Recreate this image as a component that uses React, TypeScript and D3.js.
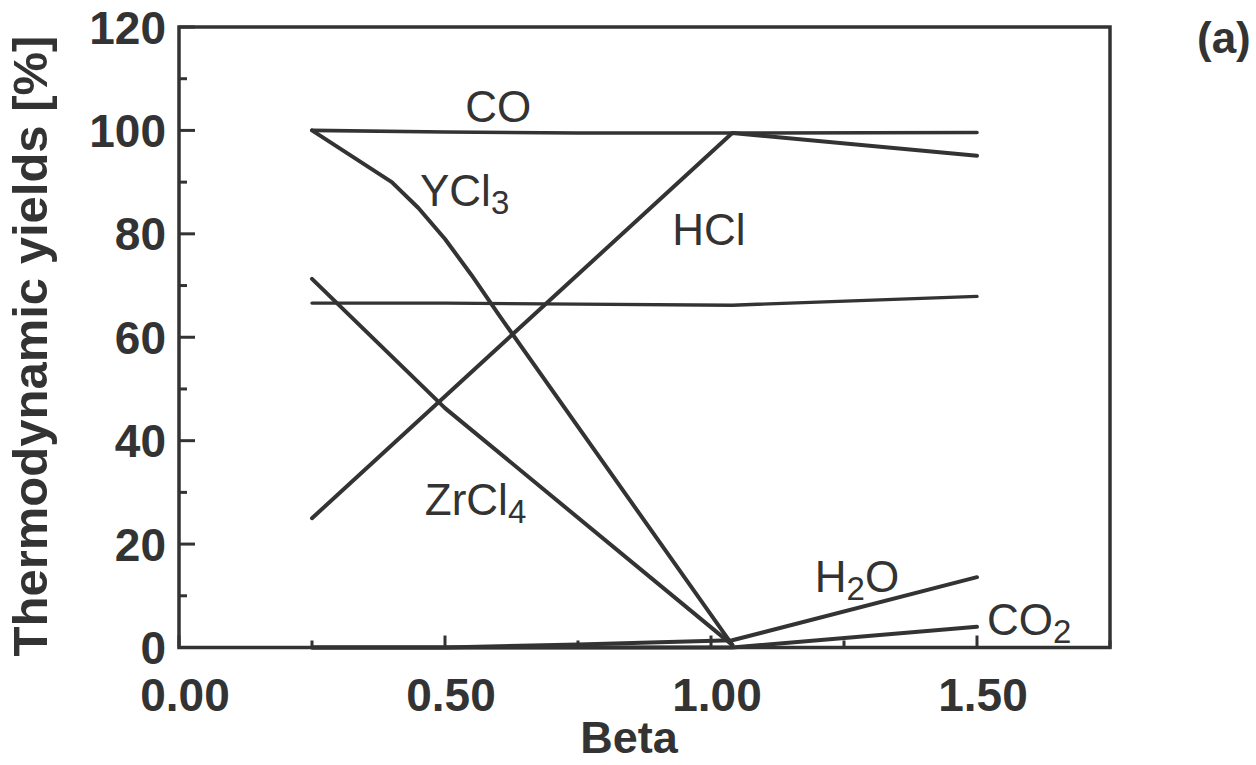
import React from 'react';
import * as d3 from 'd3';

// yields (beta vs thermodynamic yield, %)
const coBeta = [0.25, 0.5, 0.75, 1.04, 1.5];
const coYield = [100, 99.7, 99.5, 99.5, 99.6];

const ycl3Beta = [0.25, 0.4, 0.45, 0.5, 0.55, 0.6, 1.04];
const ycl3Yield = [100, 90, 85, 79, 72, 64.5, 0.5];

const hclBeta = [0.25, 1.04, 1.5];
const hclYield = [25, 99.5, 95.1];

const zrcl4Beta = [0.25, 0.5, 1.04];
const zrcl4Yield = [71.3, 46.3, 0.5];

const flatBeta = [0.25, 0.5, 0.75, 1.04, 1.5];
const flatYield = [66.6, 66.6, 66.4, 66.2, 67.9];

const h2oBeta = [0.25, 0.5, 0.75, 1.04, 1.5];
const h2oYield = [0, 0, 0.6, 1.4, 13.6];

const co2Beta = [0.25, 1.04, 1.5];
const co2Yield = [0, 0, 4.0];

const xTickLabels = ['0.00', '0.50', '1.00', '1.50'];
const yTickLabels = ['0', '20', '40', '60', '80', '100', '120'];

// label anchors in data units: [beta, yield]
const labels = [
    { main: 'CO', sub: '', at: [0.538, 101.6] },
    { main: 'YCl', sub: '3', at: [0.453, 85.4] },
    { main: 'HCl', sub: '', at: [0.927, 77.9] },
    { main: 'ZrCl', sub: '4', at: [0.462, 25.6] },
    { main: 'H', sub: '2', tail: 'O', at: [1.195, 10.7] },
    { main: 'CO', sub: '2', at: [1.519, 2.4] },
];

const W = 1256;
const H = 765;
const ink = '#333';

export default function App() {
    const x = d3.scaleLinear().domain([0, 1.75]).range([179, 1110]);
    const y = d3.scaleLinear().domain([0, 120]).range([647.5, 27]);

    const line = d3.line<[number, number]>()
        .x(d => x(d[0]))
        .y(d => y(d[1]));

    const zip = (bs: number[], vs: number[]) => bs.map((b, i) => [b, vs[i]] as [number, number]);

    const series = [
        { pts: zip(coBeta, coYield), w: 3.6 },
        { pts: zip(ycl3Beta, ycl3Yield), w: 4 },
        { pts: zip(hclBeta, hclYield), w: 4 },
        { pts: zip(zrcl4Beta, zrcl4Yield), w: 4 },
        { pts: zip(flatBeta, flatYield), w: 3.4 },
        { pts: zip(h2oBeta, h2oYield), w: 4 },
        { pts: zip(co2Beta, co2Yield), w: 4 },
    ];

    const xTicks = d3.range(0, 1.76, 0.25);
    const yTicks = d3.range(0, 121, 10);

    return (
        <div style={{ position: 'absolute', left: 0, top: 0 }}>
            <svg width={W} height={H} style={{ display: 'block', background: '#fff' }}
                fontFamily="'Liberation Sans', Arial, Helvetica, sans-serif">
                {/* frame */}
                <rect x={x(0)} y={y(120)} width={x(1.75) - x(0)} height={y(0) - y(120)}
                    fill="none" stroke={ink} strokeWidth={3.5} />

                {/* y ticks, pointing inward */}
                {yTicks.map((t, i) => (
                    <line key={'yt' + i} x1={x(0)} x2={x(0) + (t % 20 === 0 ? 16 : 8)}
                        y1={y(t)} y2={y(t)} stroke={ink} strokeWidth={3} />
                ))}
                {/* x ticks */}
                {xTicks.map((t, i) => (
                    <line key={'xt' + i} x1={x(t)} x2={x(t)} y1={y(0)}
                        y2={y(0) - (i % 2 === 0 ? 12 : 7)} stroke={ink} strokeWidth={3} />
                ))}

                {/* tick labels */}
                {yTickLabels.map((lab, i) => (
                    <text key={'yl' + i} x={166} y={y(+lab)} dy="0.36em" textAnchor="end"
                        fontSize={46} fontWeight="bold" fill={ink}>{lab}</text>
                ))}
                {xTickLabels.map((lab, i) => (
                    <text key={'xl' + i} x={x(+lab) + 6} y={711} textAnchor="middle"
                        fontSize={46} fontWeight="bold" fill={ink}>{lab}</text>
                ))}

                {/* axis titles */}
                <text x={629} y={753} textAnchor="middle" fontSize={45} fontWeight="bold" fill={ink}>Beta</text>
                <text transform="translate(47,346) rotate(-90)" textAnchor="middle"
                    fontSize={49} fontWeight="bold" fill={ink}>Thermodynamic yields [%]</text>
                <text x={1197} y={53} fontSize={44} fontWeight="bold" fill={ink}>(a)</text>

                {/* data lines */}
                {series.map((s, i) => (
                    <path key={'s' + i} d={line(s.pts) || ''} fill="none" stroke={ink}
                        strokeWidth={s.w} strokeLinejoin="round" strokeLinecap="round" />
                ))}

                {/* series labels */}
                {labels.map((l, i) => (
                    <text key={'lb' + i} x={x(l.at[0])} y={y(l.at[1])} fontSize={44} fill={ink}>
                        {l.main}
                        {l.sub && <tspan dy={8} fontSize={33}>{l.sub}</tspan>}
                        {l.tail && <tspan dy={-8} fontSize={44}>{l.tail}</tspan>}
                    </text>
                ))}
            </svg>
        </div>
    );
}
